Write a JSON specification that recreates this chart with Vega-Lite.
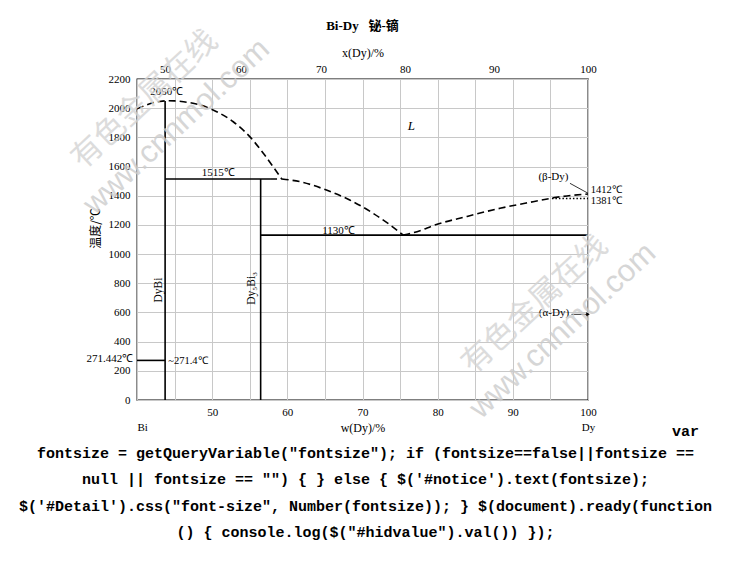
{
  "$schema": "https://vega.github.io/schema/vega-lite/v6.json",
  "autosize": "none",
  "width": 451,
  "height": 321,
  "padding": {"left": 137, "top": 79, "right": 142, "bottom": 181},
  "background": "#ffffff",
  "title": {"text": "Bi-Dy\u00a0\u00a0\u00a0铋-镝", "font": "Liberation Serif, Noto Sans CJK SC", "fontSize": 13, "fontWeight": "bold", "anchor": "middle", "offset": -8, "color": "#000"},
  "config": {
    "view": {"stroke": "#000", "strokeWidth": 1.3},
    "axis": {"labelFont": "Liberation Serif", "titleFont": "Liberation Serif", "labelColor": "#000", "titleColor": "#000", "titleFontWeight": "normal"},
    "text": {"font": "Liberation Serif", "fontSize": 11, "color": "#000"}
  },
  "datasets": {
    "lines": [
      {"series": "DyBi", "w": 43.74, "T": 0}, {"series": "DyBi", "w": 43.74, "T": 2050},
      {"series": "Dy5Bi3", "w": 56.45, "T": 0}, {"series": "Dy5Bi3", "w": 56.45, "T": 1515},
      {"series": "peritectic", "w": 43.74, "T": 1515}, {"series": "peritectic", "w": 57.7, "T": 1515},
      {"series": "eutectic", "w": 56.45, "T": 1130}, {"series": "eutectic", "w": 100, "T": 1130},
      {"series": "Bi_eutectic", "w": 40, "T": 271.4}, {"series": "Bi_eutectic", "w": 43.74, "T": 271.4},
      {"series": "liq_a", "w": 40, "T": 1995}, {"series": "liq_a", "w": 41, "T": 2017}, {"series": "liq_a", "w": 42, "T": 2035}, {"series": "liq_a", "w": 43, "T": 2046}, {"series": "liq_a", "w": 44, "T": 2051}, {"series": "liq_a", "w": 45, "T": 2050}, {"series": "liq_a", "w": 46.2, "T": 2044}, {"series": "liq_a", "w": 48.4, "T": 2022}, {"series": "liq_a", "w": 50.6, "T": 1976}, {"series": "liq_a", "w": 52.8, "T": 1907}, {"series": "liq_a", "w": 55.0, "T": 1805}, {"series": "liq_a", "w": 56.8, "T": 1691}, {"series": "liq_a", "w": 58.1, "T": 1599}, {"series": "liq_a", "w": 59.25, "T": 1515},
      {"series": "peri_ext", "w": 57.7, "T": 1515}, {"series": "peri_ext", "w": 59.25, "T": 1515},
      {"series": "liq_b", "w": 59.25, "T": 1515}, {"series": "liq_b", "w": 61.7, "T": 1496}, {"series": "liq_b", "w": 65.2, "T": 1439}, {"series": "liq_b", "w": 68.3, "T": 1371}, {"series": "liq_b", "w": 71.4, "T": 1280}, {"series": "liq_b", "w": 73.7, "T": 1199}, {"series": "liq_b", "w": 75.43, "T": 1130},
      {"series": "liq_c", "w": 75.43, "T": 1130}, {"series": "liq_c", "w": 77.65, "T": 1160}, {"series": "liq_c", "w": 79.4, "T": 1195}, {"series": "liq_c", "w": 83.9, "T": 1258}, {"series": "liq_c", "w": 88.3, "T": 1314}, {"series": "liq_c", "w": 92.7, "T": 1359}, {"series": "liq_c", "w": 95.8, "T": 1389}, {"series": "liq_c", "w": 100, "T": 1412},
      {"series": "beta_trans", "w": 95.2, "T": 1381}, {"series": "beta_trans", "w": 100, "T": 1381},
      {"series": "beta_leader", "w": 97.6, "T": 1485}, {"series": "beta_leader", "w": 100, "T": 1417},
      {"series": "alpha_arrow", "w": 97.8, "T": 587}, {"series": "alpha_arrow", "w": 100, "T": 587}
    ],
    "labels": [
      {"text": "2050℃", "w": 43.95, "T": 2113},
      {"text": "1515℃", "w": 50.8, "T": 1554},
      {"text": "1130℃", "w": 66.8, "T": 1160},
      {"text": "(β-Dy)", "w": 95.4, "T": 1530},
      {"text": "(α-Dy)", "w": 95.47, "T": 598},
      {"text": "1412℃", "w": 100.36, "T": 1437},
      {"text": "1381℃", "w": 100.36, "T": 1364},
      {"text": "~271.4℃", "w": 44.16, "T": 269},
      {"text": "271.442℃", "w": 39.5, "T": 279},
      {"text": "DyBi", "w": 42.93, "T": 754},
      {"text": "Dy₅Bi₃", "w": 55.34, "T": 765},
      {"text": "L", "w": 76.5, "T": 1880},
      {"text": "有色金属在线", "w": 41.06, "T": 2056},
      {"text": "www.cnnmol.com", "w": 45.3, "T": 1871},
      {"text": "有色金属在线", "w": 92.95, "T": 651},
      {"text": "www.cnnmol.com", "w": 96.67, "T": 473}
    ]
  },
  "resolve": {"axis": {"x": "independent", "y": "independent"}},
  "layer": [
    {
      "data": {"name": "lines"},
      "transform": [{"filter": "indexof(['DyBi','Dy5Bi3','peritectic','eutectic','Bi_eutectic'], datum.series) >= 0"}],
      "mark": {"type": "line", "color": "#000", "strokeWidth": 1.6},
      "encoding": {
        "x": {"field": "w", "type": "quantitative", "scale": {"domain": [40, 100], "nice": false, "zero": false},
          "axis": {"orient": "bottom", "values": [40, 45, 50, 55, 60, 65, 70, 75, 80, 85, 90, 95, 100],
            "labelExpr": "datum.value == 40 ? ['', 'Bi'] : datum.value == 100 ? ['100', 'Dy'] : (datum.value % 10 == 0 ? datum.label : '')",
            "labelAlign": {"condition": {"test": "datum.value == 40", "value": "left"}, "value": "center"},
            "grid": true, "gridColor": "#c8c8c8", "gridWidth": 1, "domain": false, "ticks": false,
            "labelFontSize": 11, "labelPadding": 6, "labelLineHeight": 15, "labelOverlap": false, "labelBound": false, "labelFlush": false,
            "title": "w(Dy)/%", "titleFontSize": 12, "titleY": 27, "titleBaseline": "middle"}},
        "y": {"field": "T", "type": "quantitative", "scale": {"domain": [0, 2200], "nice": false, "zero": false},
          "axis": {"orient": "left", "values": [0, 200, 400, 600, 800, 1000, 1200, 1400, 1600, 1800, 2000, 2200], "format": "d",
            "grid": true, "gridColor": "#c8c8c8", "gridWidth": 1, "domain": false, "ticks": false,
            "labelFontSize": 11, "labelPadding": 7, "labelOverlap": false, "labelBound": false, "labelFlush": false,
            "title": "温度/℃", "titleFont": "Noto Sans CJK SC", "titleFontSize": 12, "titleAngle": 270, "titleX": -42, "titleY": 149, "titleBaseline": "middle", "titleAlign": "center"}},
        "detail": {"field": "series"}
      }
    },
    {
      "data": {"name": "lines"},
      "transform": [{"filter": "indexof(['liq_a','liq_b','liq_c','peri_ext'], datum.series) >= 0"}],
      "mark": {"type": "line", "color": "#000", "strokeWidth": 1.6, "strokeDash": [7, 4], "interpolate": "monotone"},
      "encoding": {
        "x": {"field": "w", "type": "quantitative", "axis": null},
        "y": {"field": "T", "type": "quantitative", "axis": null},
        "detail": {"field": "series"}
      }
    },
    {
      "data": {"name": "lines"},
      "transform": [{"filter": "datum.series == 'beta_trans'"}],
      "mark": {"type": "line", "color": "#000", "strokeWidth": 1.6, "strokeDash": [1.5, 2]},
      "encoding": {
        "x": {"field": "w", "type": "quantitative", "axis": null},
        "y": {"field": "T", "type": "quantitative", "axis": null},
        "detail": {"field": "series"}
      }
    },
    {
      "data": {"name": "lines"},
      "transform": [{"filter": "datum.series == 'beta_leader' || datum.series == 'alpha_arrow'"}],
      "mark": {"type": "line", "color": "#000", "strokeWidth": 0.8},
      "encoding": {
        "x": {"field": "w", "type": "quantitative", "axis": null},
        "y": {"field": "T", "type": "quantitative", "axis": null},
        "detail": {"field": "series"}
      }
    },
    {
      "data": {"name": "lines"},
      "transform": [{"filter": "datum.series == 'alpha_arrow' && datum.w == 100"}],
      "mark": {"type": "point", "shape": "triangle-right", "filled": true, "color": "#000", "size": 18, "opacity": 1},
      "encoding": {
        "x": {"field": "w", "type": "quantitative", "axis": null},
        "y": {"field": "T", "type": "quantitative", "axis": null}
      }
    },
    {
      "data": {"name": "labels"},
      "transform": [{"filter": "indexof(['2050℃','1515℃','1130℃','(β-Dy)','(α-Dy)'], datum.text) >= 0"}],
      "mark": {"type": "text", "align": "center", "baseline": "middle", "fontSize": 11},
      "encoding": {
        "x": {"field": "w", "type": "quantitative", "axis": null},
        "y": {"field": "T", "type": "quantitative", "axis": null},
        "text": {"field": "text"}
      }
    },
    {
      "data": {"name": "labels"},
      "transform": [{"filter": "indexof(['1412℃','1381℃','~271.4℃'], datum.text) >= 0"}],
      "mark": {"type": "text", "align": "left", "baseline": "middle", "fontSize": 10.5},
      "encoding": {
        "x": {"field": "w", "type": "quantitative", "axis": null},
        "y": {"field": "T", "type": "quantitative", "axis": null},
        "text": {"field": "text"}
      }
    },
    {
      "data": {"name": "labels"},
      "transform": [{"filter": "datum.text == '271.442℃'"}],
      "mark": {"type": "text", "align": "right", "baseline": "middle", "fontSize": 11},
      "encoding": {
        "x": {"field": "w", "type": "quantitative", "axis": null},
        "y": {"field": "T", "type": "quantitative", "axis": null},
        "text": {"field": "text"}
      }
    },
    {
      "data": {"name": "labels"},
      "transform": [{"filter": "datum.text == 'DyBi' || datum.text == 'Dy₅Bi₃'"}],
      "mark": {"type": "text", "align": "center", "baseline": "middle", "fontSize": 11.5, "angle": 270},
      "encoding": {
        "x": {"field": "w", "type": "quantitative", "axis": null},
        "y": {"field": "T", "type": "quantitative", "axis": null},
        "text": {"field": "text"}
      }
    },
    {
      "data": {"name": "labels"},
      "transform": [{"filter": "datum.text == 'L'"}],
      "mark": {"type": "text", "align": "center", "baseline": "middle", "fontSize": 13, "fontStyle": "italic"},
      "encoding": {
        "x": {"field": "w", "type": "quantitative", "axis": null},
        "y": {"field": "T", "type": "quantitative", "axis": null},
        "text": {"field": "text"}
      }
    },
    {
      "data": {"name": "labels"},
      "transform": [{"filter": "datum.text == '有色金属在线'"}],
      "mark": {"type": "text", "align": "center", "baseline": "middle", "font": "Noto Sans CJK SC", "fontSize": 31, "angle": -43, "color": "#d4d4d4", "opacity": 0.8},
      "encoding": {
        "x": {"field": "w", "type": "quantitative", "axis": null},
        "y": {"field": "T", "type": "quantitative", "axis": null},
        "text": {"field": "text"}
      }
    },
    {
      "data": {"name": "labels"},
      "transform": [{"filter": "datum.text == 'www.cnnmol.com'"}],
      "mark": {"type": "text", "align": "center", "baseline": "middle", "font": "Liberation Sans", "fontSize": 31, "angle": -43, "color": "#cccccc", "opacity": 0.8},
      "encoding": {
        "x": {"field": "w", "type": "quantitative", "axis": null},
        "y": {"field": "T", "type": "quantitative", "axis": null},
        "text": {"field": "text"}
      }
    },
    {
      "data": {"name": "lines"},
      "mark": {"type": "point", "opacity": 0},
      "encoding": {
        "x": {"field": "w", "type": "quantitative",
          "axis": {"orient": "top", "values": [43.74, 53.84, 64.47, 75.67, 87.5, 100],
            "labelExpr": "format(100*(datum.value/162.5)/(datum.value/162.5+(100-datum.value)/208.98), '.0f')",
            "grid": false, "domain": false, "ticks": false, "labelFontSize": 11, "labelPadding": 5,
            "labelOverlap": false, "labelBound": false, "labelFlush": false,
            "title": "x(Dy)/%", "titleFontSize": 12, "titlePadding": 4}},
        "y": {"field": "T", "type": "quantitative", "axis": null}
      }
    },
    {
      "data": {"name": "lines"},
      "mark": {"type": "point", "opacity": 0},
      "encoding": {
        "x": {"field": "w", "type": "quantitative", "axis": null},
        "y": {"field": "T", "type": "quantitative",
          "axis": {"orient": "right", "labels": false, "ticks": false, "domain": false, "grid": false,
            "title": "var", "titleAngle": 0, "titleX": 97, "titleY": 351, "titleAlign": "center", "titleBaseline": "middle",
            "titleFont": "Liberation Mono", "titleFontWeight": "bold", "titleFontSize": 15}}
      }
    },
    {
      "data": {"name": "lines"},
      "mark": {"type": "point", "opacity": 0},
      "encoding": {
        "x": {"field": "w", "type": "quantitative", "axis": null},
        "y": {"field": "T", "type": "quantitative",
          "axis": {"orient": "right", "labels": false, "ticks": false, "domain": false, "grid": false,
            "title": ["fontsize = getQueryVariable(\"fontsize\"); if (fontsize==false||fontsize ==", "null || fontsize == \"\") { } else { $('#notice').text(fontsize);", "$('#Detail').css(\"font-size\", Number(fontsize)); } $(document).ready(function", "() { console.log($(\"#hidvalue\").val()) });"],
            "titleAngle": 0, "titleX": -223, "titleY": 366, "titleAlign": "center", "titleBaseline": "top", "titleLineHeight": 26.5,
            "titleFont": "Liberation Mono", "titleFontWeight": "bold", "titleFontSize": 15}}
      }
    }
  ]
}
